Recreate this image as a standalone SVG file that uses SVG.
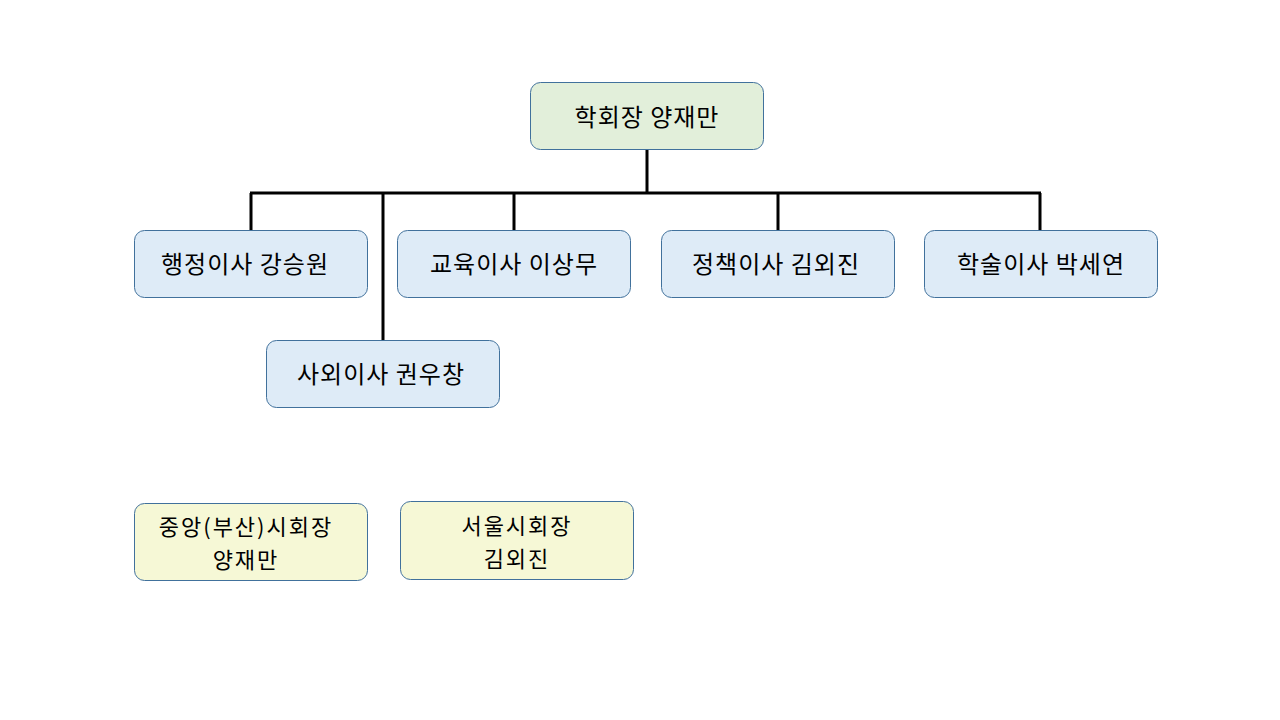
<svg xmlns="http://www.w3.org/2000/svg" width="1280" height="720" viewBox="0 0 1280 720">
<style>
.box{stroke:#41719C;stroke-width:1}
.g{fill:#E2EFDA}
.b{fill:#DEEBF7}
.y{fill:#F6F8D6}
text{font-family:"Noto Sans CJK KR","Noto Sans",sans-serif;font-size:24px;letter-spacing:1px;fill:#000;text-anchor:middle;dominant-baseline:central}
text.two{font-size:22px;letter-spacing:2px}
.conn{stroke:#000;stroke-width:3;fill:none}
</style>
<rect width="1280" height="720" fill="#fff"/>
<g id="connectors">
<path class="conn" d="M647 149V193M250 193H1041M251 193V230M383 193V340M514 193V230M778 193V230M1040 193V230"/>
</g>
<g id="president"><rect class="box g" x="530.5" y="82.5" width="233" height="67" rx="10"/><text x="647" y="115">학회장 양재만</text></g>
<g id="admin"><rect class="box b" x="134.5" y="230.5" width="233" height="67" rx="10"/><text x="245" y="262">행정이사 강승원</text></g>
<g id="edu"><rect class="box b" x="397.5" y="230.5" width="233" height="67" rx="10"/><text x="514" y="262">교육이사 이상무</text></g>
<g id="policy"><rect class="box b" x="661.5" y="230.5" width="233" height="67" rx="10"/><text x="776" y="262">정책이사 김외진</text></g>
<g id="academic"><rect class="box b" x="924.5" y="230.5" width="233" height="67" rx="10"/><text x="1041" y="262">학술이사 박세연</text></g>
<g id="external"><rect class="box b" x="266.5" y="340.5" width="233" height="67" rx="10"/><text x="381" y="372">사외이사 권우창</text></g>
<g id="busan"><rect class="box y" x="134.5" y="503.5" width="233" height="77" rx="10"/><text class="two" x="246" y="525"><tspan x="246" y="525">중앙(부산)시회장</tspan><tspan x="246" y="558">양재만</tspan></text></g>
<g id="seoul"><rect class="box y" x="400.5" y="501.5" width="233" height="78" rx="10"/><text class="two" x="517" y="524"><tspan x="517" y="524">서울시회장</tspan><tspan x="517" y="557">김외진</tspan></text></g>
</svg>
